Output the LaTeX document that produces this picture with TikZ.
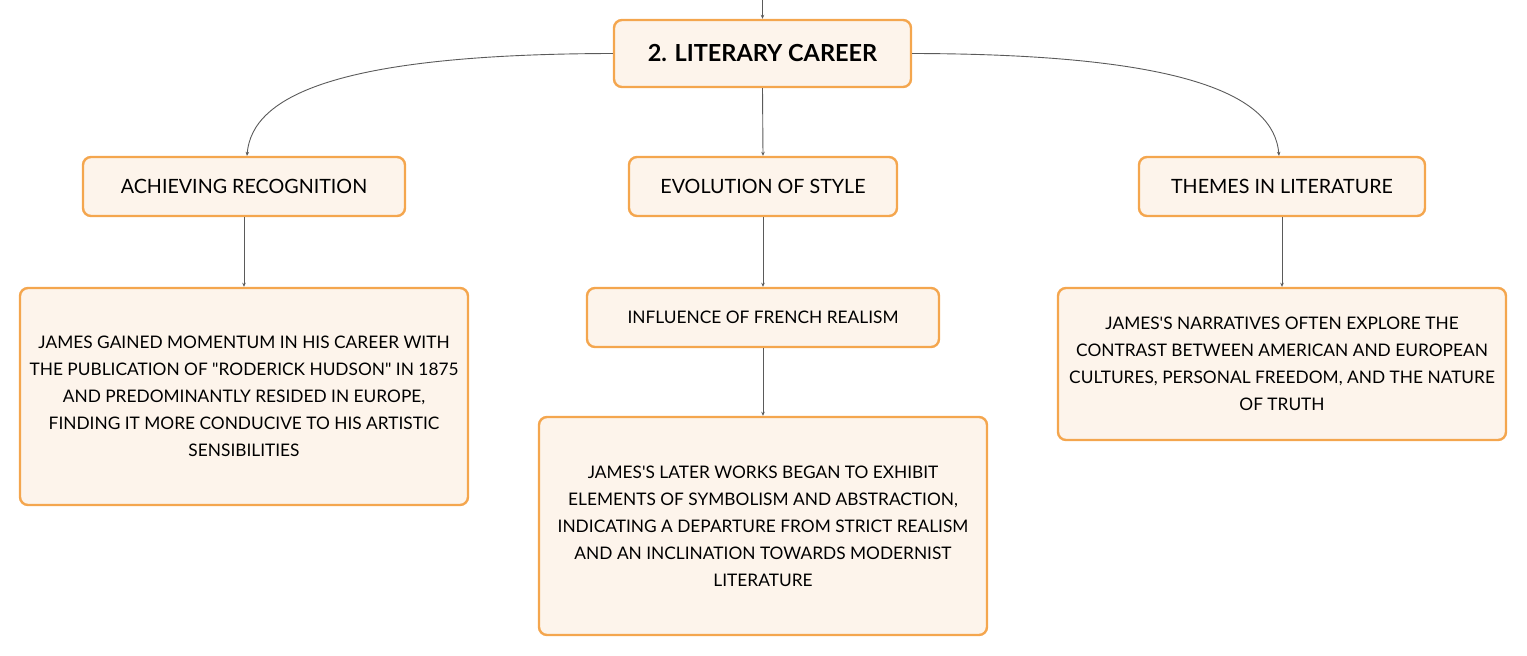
\documentclass[tikz,border=0pt]{standalone}
\usepackage{fontspec}
\setmainfont{Lato}[Ligatures=TeXOff]
\usetikzlibrary{arrows.meta}
\definecolor{boxfill}{HTML}{FDF4EB}
\definecolor{boxline}{HTML}{F4A64E}
\definecolor{conn}{HTML}{5A5A5A}
\tikzset{
  box/.style={draw=boxline, fill=boxfill, line width=2.4pt, rounded corners=8pt, align=center, inner sep=0pt, font=\fontsize{17.3}{27}\selectfont, text=black},
  link/.style={draw=conn, line width=0.9pt, -{Stealth[length=4pt,width=3.5pt]}},
}
\begin{document}
\begin{tikzpicture}[x=1pt,y=-1pt]
\useasboundingbox (0,0) rectangle (1527,656);
\node[box, minimum width=297pt, minimum height=67pt, font=\fontsize{23.5}{27}\selectfont\bfseries] (main) at (762.5,53.5) {2. LITERARY CAREER};
\node[box, minimum width=322pt, minimum height=59pt, font=\fontsize{19.7}{23}\selectfont] (ach) at (244,186.5) {ACHIEVING RECOGNITION};
\node[box, minimum width=268pt, minimum height=59pt, font=\fontsize{19.7}{23}\selectfont] (evo) at (763,186.5) {EVOLUTION OF STYLE};
\node[box, minimum width=286pt, minimum height=59pt, font=\fontsize{19.7}{23}\selectfont] (the) at (1282,186.5) {THEMES IN LITERATURE};
\node[box, minimum width=448pt, minimum height=217pt] (achd) at (244,396.5) {JAMES GAINED MOMENTUM IN HIS CAREER WITH\\THE PUBLICATION OF "RODERICK HUDSON" IN 1875\\AND PREDOMINANTLY RESIDED IN EUROPE,\\FINDING IT MORE CONDUCIVE TO HIS ARTISTIC\\SENSIBILITIES};
\node[box, minimum width=352pt, minimum height=59pt] (inf) at (763,317.5) {INFLUENCE OF FRENCH REALISM};
\node[box, minimum width=448pt, minimum height=218pt] (infd) at (763,526) {JAMES'S LATER WORKS BEGAN TO EXHIBIT\\ELEMENTS OF SYMBOLISM AND ABSTRACTION,\\INDICATING A DEPARTURE FROM STRICT REALISM\\AND AN INCLINATION TOWARDS MODERNIST\\LITERATURE};
\node[box, minimum width=448pt, minimum height=152pt] (thed) at (1282,364) {JAMES'S NARRATIVES OFTEN EXPLORE THE\\CONTRAST BETWEEN AMERICAN AND EUROPEAN\\CULTURES, PERSONAL FREEDOM, AND THE NATURE\\OF TRUTH};
\coordinate (top) at (762.5,0);
\draw[link] (top) -- (main.north);
\draw[link] (main.south) -- (evo.north);
\draw[link] (main.west) .. controls (340,54) and (252,95) .. ([xshift=3pt]ach.north);
\draw[link] (main.east) .. controls (1185,54) and (1274,95) .. ([xshift=-3pt]the.north);
\draw[link] (ach.south) -- (achd.north);
\draw[link] (evo.south) -- (inf.north);
\draw[link] (inf.south) -- (infd.north);
\draw[link] (the.south) -- (thed.north);
\end{tikzpicture}
\end{document}
